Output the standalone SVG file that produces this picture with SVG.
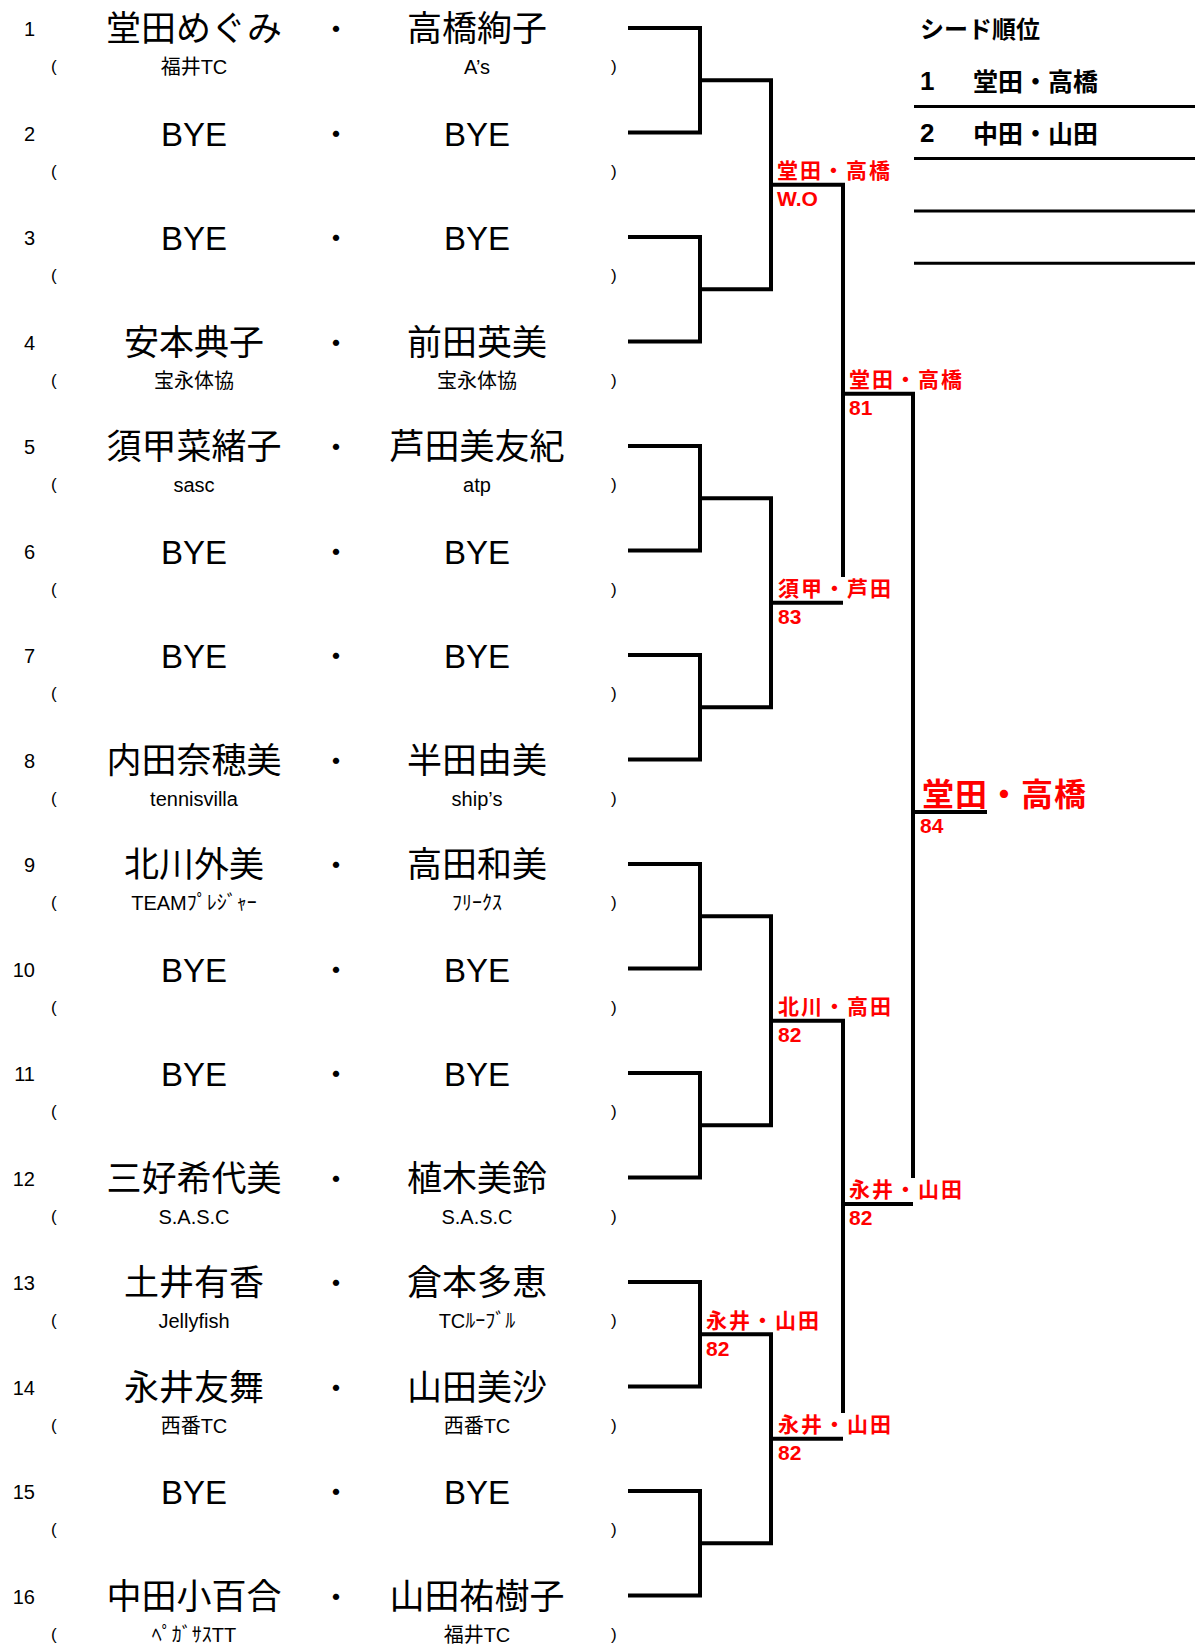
<svg xmlns="http://www.w3.org/2000/svg" width="1195" height="1647" viewBox="0 0 1195 1647">
<style>
text { font-family: "Liberation Sans", "Noto Sans CJK JP", sans-serif; fill: #000; }
.num { font-size: 20px; text-anchor: end; }
.nm { font-size: 33px; text-anchor: middle; }
.nmj { font-size: 35px; text-anchor: middle; font-family: "Noto Sans CJK JP", sans-serif; }
.dot { font-size: 30px; text-anchor: middle; font-family: "Noto Sans CJK JP", sans-serif; }
.club { font-size: 20px; text-anchor: middle; }
.par { font-size: 17px; }
.win { font-family: "Noto Sans CJK JP", sans-serif; font-weight: bold; fill: #ff0000; font-size: 21px; letter-spacing: 2px; }
.big { font-size: 32px; letter-spacing: 1px; }
.sc { font-family: "Liberation Sans", sans-serif; font-weight: bold; fill: #ff0000; font-size: 21px; }
.seed { font-family: "Noto Sans CJK JP", sans-serif; font-weight: bold; font-size: 25px; }
.seedn { font-family: "Liberation Sans", sans-serif; font-weight: bold; font-size: 26px; }
.ln { stroke: #000; stroke-width: 4; fill: none; stroke-linejoin: miter; }
.tl { stroke: #000; stroke-width: 3; fill: none; }
</style>

<g id="connectors">
  <path class="ln" d="M628,28 H700 V132.5 H628"/>
  <path class="ln" d="M628,237 H700 V341.5 H628"/>
  <path class="ln" d="M628,446 H700 V550.5 H628"/>
  <path class="ln" d="M628,655 H700 V759.5 H628"/>
  <path class="ln" d="M628,864 H700 V968.5 H628"/>
  <path class="ln" d="M628,1073 H700 V1177.5 H628"/>
  <path class="ln" d="M628,1282 H700 V1386.5 H628"/>
  <path class="ln" d="M628,1491 H700 V1595.5 H628"/>
  <path class="ln" d="M700,80.25 H771 V289.25 H700"/>
  <path class="ln" d="M700,498.25 H771 V707.25 H700"/>
  <path class="ln" d="M700,916.25 H771 V1125.25 H700"/>
  <path class="ln" d="M700,1334.25 H771 V1543.25 H700"/>
  <path class="ln" d="M771,184.75 H843 V577"/>
  <path class="ln" d="M771,602.75 H843"/>
  <path class="ln" d="M771,1020.75 H843 V1413"/>
  <path class="ln" d="M771,1438.75 H843"/>
  <path class="ln" d="M843,393.75 H913 V1178"/>
  <path class="ln" d="M843,1204 H913"/>
  <path class="ln" d="M913,812 H987"/>
</g>

<g id="entry-1">
  <text class="num" x="35" y="36">1</text>
  <text class="nmj" x="194" y="41">堂田めぐみ</text>
  <text class="dot" x="336" y="40">・</text>
  <text class="nmj" x="477" y="41">高橋絢子</text>
  <text class="par" x="51" y="72">(</text>
  <text class="club" x="194" y="74">福井TC</text>
  <text class="club" x="477" y="74">A’s</text>
  <text class="par" x="611" y="72">)</text>
</g>
<g id="entry-2">
  <text class="num" x="35" y="140.5">2</text>
  <text class="nm" x="194" y="145.5">BYE</text>
  <text class="dot" x="336" y="144.5">・</text>
  <text class="nm" x="477" y="145.5">BYE</text>
  <text class="par" x="51" y="176.5">(</text>
  <text class="par" x="611" y="176.5">)</text>
</g>
<g id="entry-3">
  <text class="num" x="35" y="245">3</text>
  <text class="nm" x="194" y="250">BYE</text>
  <text class="dot" x="336" y="249">・</text>
  <text class="nm" x="477" y="250">BYE</text>
  <text class="par" x="51" y="281">(</text>
  <text class="par" x="611" y="281">)</text>
</g>
<g id="entry-4">
  <text class="num" x="35" y="349.5">4</text>
  <text class="nmj" x="194" y="354.5">安本典子</text>
  <text class="dot" x="336" y="353.5">・</text>
  <text class="nmj" x="477" y="354.5">前田英美</text>
  <text class="par" x="51" y="385.5">(</text>
  <text class="club" x="194" y="387.5">宝永体協</text>
  <text class="club" x="477" y="387.5">宝永体協</text>
  <text class="par" x="611" y="385.5">)</text>
</g>
<g id="entry-5">
  <text class="num" x="35" y="454">5</text>
  <text class="nmj" x="194" y="459">須甲菜緒子</text>
  <text class="dot" x="336" y="458">・</text>
  <text class="nmj" x="477" y="459">芦田美友紀</text>
  <text class="par" x="51" y="490">(</text>
  <text class="club" x="194" y="492">sasc</text>
  <text class="club" x="477" y="492">atp</text>
  <text class="par" x="611" y="490">)</text>
</g>
<g id="entry-6">
  <text class="num" x="35" y="558.5">6</text>
  <text class="nm" x="194" y="563.5">BYE</text>
  <text class="dot" x="336" y="562.5">・</text>
  <text class="nm" x="477" y="563.5">BYE</text>
  <text class="par" x="51" y="594.5">(</text>
  <text class="par" x="611" y="594.5">)</text>
</g>
<g id="entry-7">
  <text class="num" x="35" y="663">7</text>
  <text class="nm" x="194" y="668">BYE</text>
  <text class="dot" x="336" y="667">・</text>
  <text class="nm" x="477" y="668">BYE</text>
  <text class="par" x="51" y="699">(</text>
  <text class="par" x="611" y="699">)</text>
</g>
<g id="entry-8">
  <text class="num" x="35" y="767.5">8</text>
  <text class="nmj" x="194" y="772.5">内田奈穂美</text>
  <text class="dot" x="336" y="771.5">・</text>
  <text class="nmj" x="477" y="772.5">半田由美</text>
  <text class="par" x="51" y="803.5">(</text>
  <text class="club" x="194" y="805.5">tennisvilla</text>
  <text class="club" x="477" y="805.5">ship’s</text>
  <text class="par" x="611" y="803.5">)</text>
</g>
<g id="entry-9">
  <text class="num" x="35" y="872">9</text>
  <text class="nmj" x="194" y="877">北川外美</text>
  <text class="dot" x="336" y="876">・</text>
  <text class="nmj" x="477" y="877">高田和美</text>
  <text class="par" x="51" y="908">(</text>
  <text class="club" x="194" y="910">TEAMﾌﾟﾚｼﾞｬｰ</text>
  <text class="club" x="477" y="910">ﾌﾘｰｸｽ</text>
  <text class="par" x="611" y="908">)</text>
</g>
<g id="entry-10">
  <text class="num" x="35" y="976.5">10</text>
  <text class="nm" x="194" y="981.5">BYE</text>
  <text class="dot" x="336" y="980.5">・</text>
  <text class="nm" x="477" y="981.5">BYE</text>
  <text class="par" x="51" y="1012.5">(</text>
  <text class="par" x="611" y="1012.5">)</text>
</g>
<g id="entry-11">
  <text class="num" x="35" y="1081">11</text>
  <text class="nm" x="194" y="1086">BYE</text>
  <text class="dot" x="336" y="1085">・</text>
  <text class="nm" x="477" y="1086">BYE</text>
  <text class="par" x="51" y="1117">(</text>
  <text class="par" x="611" y="1117">)</text>
</g>
<g id="entry-12">
  <text class="num" x="35" y="1185.5">12</text>
  <text class="nmj" x="194" y="1190.5">三好希代美</text>
  <text class="dot" x="336" y="1189.5">・</text>
  <text class="nmj" x="477" y="1190.5">植木美鈴</text>
  <text class="par" x="51" y="1221.5">(</text>
  <text class="club" x="194" y="1223.5">S.A.S.C</text>
  <text class="club" x="477" y="1223.5">S.A.S.C</text>
  <text class="par" x="611" y="1221.5">)</text>
</g>
<g id="entry-13">
  <text class="num" x="35" y="1290">13</text>
  <text class="nmj" x="194" y="1295">土井有香</text>
  <text class="dot" x="336" y="1294">・</text>
  <text class="nmj" x="477" y="1295">倉本多恵</text>
  <text class="par" x="51" y="1326">(</text>
  <text class="club" x="194" y="1328">Jellyfish</text>
  <text class="club" x="477" y="1328">TCﾙｰﾌﾞﾙ</text>
  <text class="par" x="611" y="1326">)</text>
</g>
<g id="entry-14">
  <text class="num" x="35" y="1394.5">14</text>
  <text class="nmj" x="194" y="1399.5">永井友舞</text>
  <text class="dot" x="336" y="1398.5">・</text>
  <text class="nmj" x="477" y="1399.5">山田美沙</text>
  <text class="par" x="51" y="1430.5">(</text>
  <text class="club" x="194" y="1432.5">西番TC</text>
  <text class="club" x="477" y="1432.5">西番TC</text>
  <text class="par" x="611" y="1430.5">)</text>
</g>
<g id="entry-15">
  <text class="num" x="35" y="1499">15</text>
  <text class="nm" x="194" y="1504">BYE</text>
  <text class="dot" x="336" y="1503">・</text>
  <text class="nm" x="477" y="1504">BYE</text>
  <text class="par" x="51" y="1535">(</text>
  <text class="par" x="611" y="1535">)</text>
</g>
<g id="entry-16">
  <text class="num" x="35" y="1603.5">16</text>
  <text class="nmj" x="194" y="1608.5">中田小百合</text>
  <text class="dot" x="336" y="1607.5">・</text>
  <text class="nmj" x="477" y="1608.5">山田祐樹子</text>
  <text class="par" x="51" y="1639.5">(</text>
  <text class="club" x="194" y="1641.5">ﾍﾟｶﾞｻｽTT</text>
  <text class="club" x="477" y="1641.5">福井TC</text>
  <text class="par" x="611" y="1639.5">)</text>
</g>

<g id="result-r2-1">
  <text class="win" x="777" y="178">堂田・高橋</text>
  <text class="sc" x="777" y="206">W.O</text>
</g>
<g id="result-r3-1">
  <text class="win" x="849" y="387">堂田・高橋</text>
  <text class="sc" x="849" y="415">81</text>
</g>
<g id="result-r2-2">
  <text class="win" x="778" y="596">須甲・芦田</text>
  <text class="sc" x="778" y="624">83</text>
</g>
<g id="result-final">
  <text class="win big" x="922" y="806">堂田・高橋</text>
  <text class="sc" x="920" y="833">84</text>
</g>
<g id="result-r2-3">
  <text class="win" x="778" y="1014">北川・高田</text>
  <text class="sc" x="778" y="1042">82</text>
</g>
<g id="result-r3-2">
  <text class="win" x="849" y="1197">永井・山田</text>
  <text class="sc" x="849" y="1225">82</text>
</g>
<g id="result-r1-7">
  <text class="win" x="706" y="1328">永井・山田</text>
  <text class="sc" x="706" y="1356">82</text>
</g>
<g id="result-r2-4">
  <text class="win" x="778" y="1432">永井・山田</text>
  <text class="sc" x="778" y="1460">82</text>
</g>

<g id="seed-table">
  <text class="seed" x="920" y="38" style="font-size:24px">シード順位</text>
  <text class="seedn" x="920" y="90">1</text>
  <text class="seed" x="973" y="90.5">堂田・高橋</text>
  <text class="seedn" x="920" y="142">2</text>
  <text class="seed" x="973" y="142.5">中田・山田</text>
  <path class="tl" d="M914,106.5 H1195 M914,158.5 H1195 M914,211 H1195 M914,263.3 H1195"/>
</g>
</svg>
